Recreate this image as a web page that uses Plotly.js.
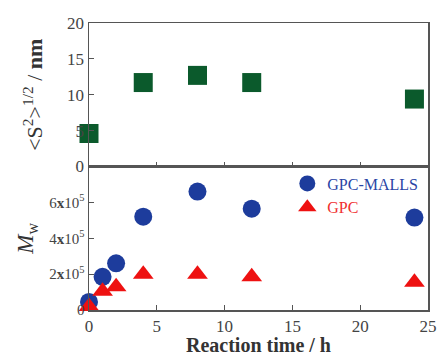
<!DOCTYPE html>
<html><head><meta charset="utf-8">
<script src="https://cdn.plot.ly/plotly-3.0.1.min.js"></script>
<style>body{margin:0;padding:0;background:#fff}</style>
</head><body>
<div id="chart" style="width:438px;height:356px"></div>
<script>
const timeS = [0, 4, 8, 12, 24];
const rg = [4.6, 11.7, 12.7, 11.7, 9.4];
const timeM = [0, 1, 2, 4, 8, 12, 24];
const mwMalls = [0.45e5, 1.85e5, 2.6e5, 5.2e5, 6.6e5, 5.65e5, 5.15e5];
const mwGpc = [0.2e5, 1.05e5, 1.3e5, 2.0e5, 2.0e5, 1.85e5, 1.55e5];
const mwTickVals = [0, 2e5, 4e5, 6e5];
const mwTickText = ['0', '2<b>x</b>10<sup>5</sup>', '4<b>x</b>10<sup>5</sup>', '6<b>x</b>10<sup>5</sup>'];

const serif = 'Liberation Serif';
const axCol = '#555';
const traces = [
  {x: timeS, y: rg, xaxis: 'x', yaxis: 'y', mode: 'markers', type: 'scatter', showlegend: false,
   marker: {symbol: 'square', size: 19, color: '#0b5a2c'}, cliponaxis: false},
  {x: timeM, y: mwMalls, xaxis: 'x2', yaxis: 'y2', mode: 'markers', type: 'scatter',
   name: '<span style="color:#2a45a5">GPC-MALLS</span>',
   marker: {symbol: 'circle', size: 18, color: '#1d3c9c'}, cliponaxis: false},
  {x: timeM, y: mwGpc, xaxis: 'x2', yaxis: 'y2', mode: 'markers', type: 'scatter',
   name: '<span style="color:#f03030">GPC</span>',
   marker: {symbol: 'triangle-up', size: 18, color: '#ee1111'}, cliponaxis: false}
];
const common = {showline: true, linecolor: axCol, linewidth: 1.5, mirror: true, ticks: 'inside',
  ticklen: 5, tickcolor: axCol, zeroline: false, showgrid: false,
  tickfont: {family: serif, size: 17, color: '#444'}};
const layout = {
  width: 438, height: 356,
  margin: {l: 89, r: 10, t: 23, b: 46},
  paper_bgcolor: '#fff', plot_bgcolor: '#fff',
  xaxis: Object.assign({}, common, {domain: [0, 1], range: [0, 25], dtick: 5, anchor: 'y', showticklabels: false}),
  yaxis: Object.assign({}, common, {domain: [0.5, 1], range: [0, 20], dtick: 5, anchor: 'x',
    title: {text: '&lt;S<sup>2</sup>&gt;<sup>1/2</sup> / <b>nm</b>', font: {family: serif, size: 22, color: '#333'}, standoff: 18}}),
  xaxis2: Object.assign({}, common, {domain: [0, 1], range: [0, 25], dtick: 5, anchor: 'y2',
    title: {text: '<b>Reaction time / h</b>', font: {family: serif, size: 20, color: '#333'}, standoff: 3}}),
  yaxis2: Object.assign({}, common, {domain: [0, 0.5], range: [0, 8e5], anchor: 'x2',
    tickvals: mwTickVals, ticktext: mwTickText, tickfont: {family: serif, size: 15, color: '#444'},
    title: {text: '<i>M</i><sub>w</sub>', font: {family: serif, size: 23, color: '#333'}, standoff: 9}}),
  legend: {x: 0.585, y: 0.5, xanchor: 'left', yanchor: 'top', bgcolor: 'rgba(0,0,0,0)',
    font: {family: serif, size: 16}, itemwidth: 30, tracegroupgap: 0}
};
Plotly.newPlot('chart', traces, layout, {displayModeBar: false, staticPlot: true});
</script>
</body></html>
